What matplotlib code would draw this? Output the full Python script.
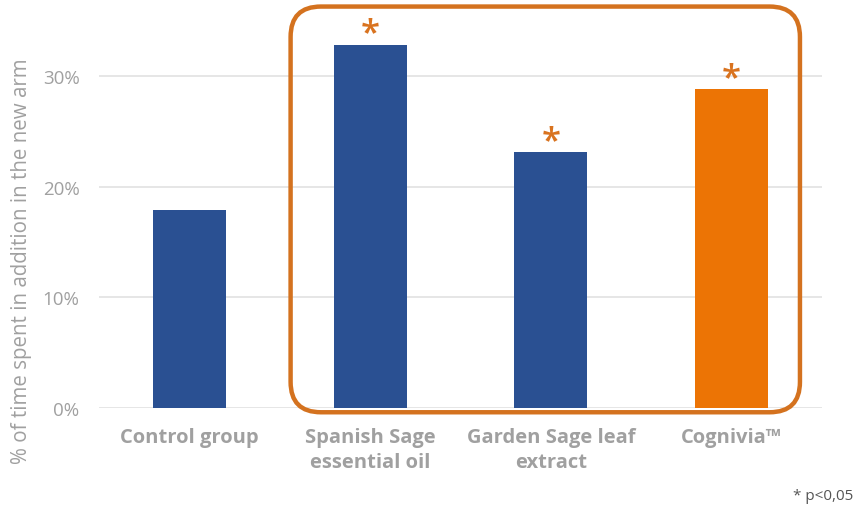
import matplotlib
matplotlib.use("Agg")
import matplotlib.pyplot as plt
from matplotlib.patches import FancyBboxPatch
from matplotlib.ticker import FuncFormatter

categories = ["Control group", "Spanish Sage\nessential oil", "Garden Sage leaf\nextract", "Cognivia™"]
values = [0.179, 0.328, 0.231, 0.288]
significant = [False, True, True, True]
bar_colors = ["#2A5092", "#2A5092", "#2A5092", "#EC7405"]
yticks = [0.0, 0.1, 0.2, 0.3]

plt.rcParams['font.family'] = ['Open Sans', 'DejaVu Sans']

fig = plt.figure(figsize=(8.56, 5.10), dpi=100)
ax = fig.add_axes([99/856, 101/510, 723/856, 387.5/510])

x = list(range(len(categories)))
ax.bar(x, values, width=0.404, color=bar_colors, zorder=3)
ax.set_xlim(-0.5, len(categories) - 0.5)
ax.set_ylim(0, 0.35)
ax.set_yticks(yticks)
ax.yaxis.set_major_formatter(FuncFormatter(lambda v, p: f"{v*100:.0f}%"))
ax.grid(axis='y', color='#E4E4E4', linewidth=1.3, zorder=0)
ax.set_axisbelow(True)
for s in ax.spines.values():
    s.set_visible(False)
ax.tick_params(axis='both', length=0)
ax.tick_params(axis='y', labelsize=13.5, labelcolor='#A0A0A0', pad=14)
ax.set_xticks(x)
ax.set_xticklabels(categories, fontsize=14.5, fontweight='bold', color='#A0A0A0',
                   linespacing=1.3)
ax.tick_params(axis='x', pad=14)

fig.text(22/856, 1 - 261/510, "% of time spent in addition in the new arm",
         rotation=90, ha='center', va='center', fontsize=14.8, color='#A0A0A0')

for xi, v, sig in zip(x, values, significant):
    if sig:
        ax.annotate("*", xy=(xi, v), xytext=(0, -4), textcoords='offset points',
                    ha='center', va='bottom', fontsize=25, color='#D9731F',
                    fontweight='semibold')

box = FancyBboxPatch((0.265, -0.011), 0.9695 - 0.265, 1.036 + 0.011,
                     boxstyle="round,pad=0,rounding_size=0.042",
                     mutation_aspect=723/387.5,
                     transform=ax.transAxes, fill=False,
                     edgecolor='#D4721F', linewidth=3.2, clip_on=False, zorder=4)
ax.add_patch(box)

fig.text(853/856, 1 - 497/510, "* p<0,05", ha='right', va='center', fontsize=11,
         color='#555555')

fig.savefig("out.png", dpi=100)
